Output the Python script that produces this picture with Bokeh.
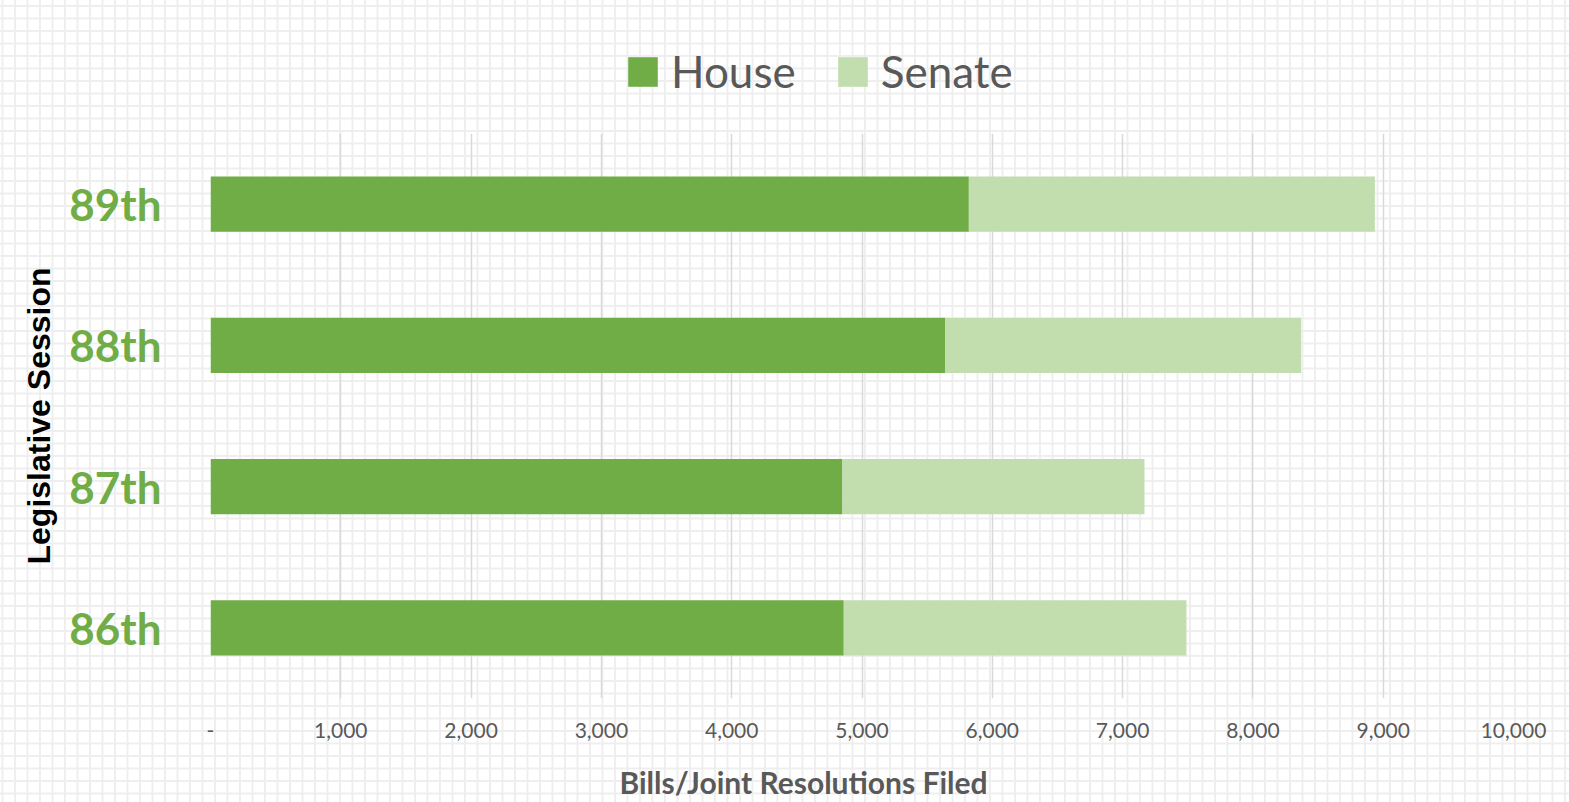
from bokeh.plotting import figure
from bokeh.layouts import column
from bokeh.models import ColumnDataSource, FactorRange, Range1d, FixedTicker, Legend, LegendItem, Label
from bokeh.embed import file_html
from bokeh.resources import INLINE

# ---- data ----
sessions = ["86th", "87th", "88th", "89th"]
house = [4860, 4850, 5640, 5820]
senate = [2630, 2318, 2730, 3116]
series_names = ["House", "Senate"]
tick_values = [0, 1000, 2000, 3000, 4000, 5000, 6000, 7000, 8000, 9000, 10000]
tick_labels = ["-", "1,000", "2,000", "3,000", "4,000", "5,000", "6,000", "7,000", "8,000", "9,000", "10,000"]
x_title = "Bills/Joint Resolutions Filed"
y_title = "Legislative Session"

HOUSE_C = "#70AD47"
SENATE_C = "#C2DEAE"
GREY = "#595959"
FONT = "Lato"
COLORS = [HOUSE_C, SENATE_C]

source = ColumnDataSource(dict(session=sessions, House=house, Senate=senate))


def strip(height):
    f = figure(width=1569, height=height, x_range=Range1d(0, 1), y_range=Range1d(0, 1),
               output_backend="svg", toolbar_location=None,
               min_border_left=0, min_border_right=0, min_border_top=0, min_border_bottom=0)
    f.axis.visible = False
    f.grid.visible = False
    f.outline_line_color = None
    f.background_fill_color = None
    f.border_fill_color = None
    return f


# ---------------- legend strip (top) ----------------
lf = strip(133)
# zero-length swatch bars: only their colours are shown, in the legend
legend_renderers = [lf.hbar(y=[0.5], left=[0], right=[0], height=0.1, color=c, line_color=None)
                    for c in COLORS]
legend = Legend(
    items=[LegendItem(label=n, renderers=[r]) for n, r in zip(series_names, legend_renderers)],
    orientation="horizontal", location=(414, 36),
    glyph_width=37, glyph_height=37, label_standoff=10, spacing=38,
    padding=0, margin=0, border_line_color=None, background_fill_alpha=0,
    label_text_font=FONT, label_text_font_size="44px", label_text_color=GREY,
    label_height=37,
)
lf.add_layout(legend, "center")

# ---------------- main chart ----------------
p = figure(
    width=1569, height=625,
    y_range=FactorRange(factors=sessions, range_padding=0),
    x_range=Range1d(0, 10000),
    output_backend="svg", toolbar_location=None,
    min_border_left=210, min_border_right=56, min_border_top=0, min_border_bottom=60,
)
p.background_fill_color = None
p.border_fill_color = None
p.outline_line_color = None

p.hbar_stack(series_names, y="session", height=0.39, source=source,
             color=COLORS, line_color=None)

# grid
p.ygrid.grid_line_color = None
p.xgrid.grid_line_color = "#d9d9d9"
p.xgrid.grid_line_width = 1.5
p.xgrid.ticker = FixedTicker(ticks=tick_values)

# x axis
xa = p.xaxis[0]
xa.ticker = FixedTicker(ticks=tick_values)
xa.major_label_overrides = {v: l for v, l in zip(tick_values, tick_labels)}
xa.axis_line_color = None
xa.major_tick_line_color = None
xa.minor_tick_line_color = None
xa.major_label_standoff = 18
xa.major_label_text_font = FONT
xa.major_label_text_font_size = "21px"
xa.major_label_text_color = GREY

# y axis
ya = p.yaxis[0]
ya.axis_line_color = None
ya.major_tick_line_color = None
ya.minor_tick_line_color = None
ya.major_label_standoff = 43
ya.major_label_text_font = FONT
ya.major_label_text_font_style = "bold"
ya.major_label_text_font_size = "44px"
ya.major_label_text_color = HOUSE_C
ya.axis_label = y_title
ya.axis_label_text_font = "Liberation Sans"
ya.axis_label_text_font_style = "bold"
ya.axis_label_text_font_size = "32px"
ya.axis_label_text_color = "black"
ya.axis_label_standoff = 9

# ---------------- x title strip (bottom) ----------------
tf = strip(44)
tf.add_layout(Label(x=593, y=21, x_units="screen", y_units="screen", text=x_title,
                    text_align="center", text_baseline="alphabetic",
                    text_font=FONT, text_font_style="bold", text_font_size="30px",
                    text_color=GREY))

layout = column(lf, p, tf, spacing=0)
layout.styles = {
    "background-color": "white",
    "background-image": "linear-gradient(to right, #eeeeee 2px, transparent 2px), linear-gradient(to bottom, #eeeeee 2px, transparent 2px)",
    "background-size": "12.5px 12.5px",
    "background-position": "14px 5px",
}

open("out.html", "w").write(file_html(layout, INLINE))
